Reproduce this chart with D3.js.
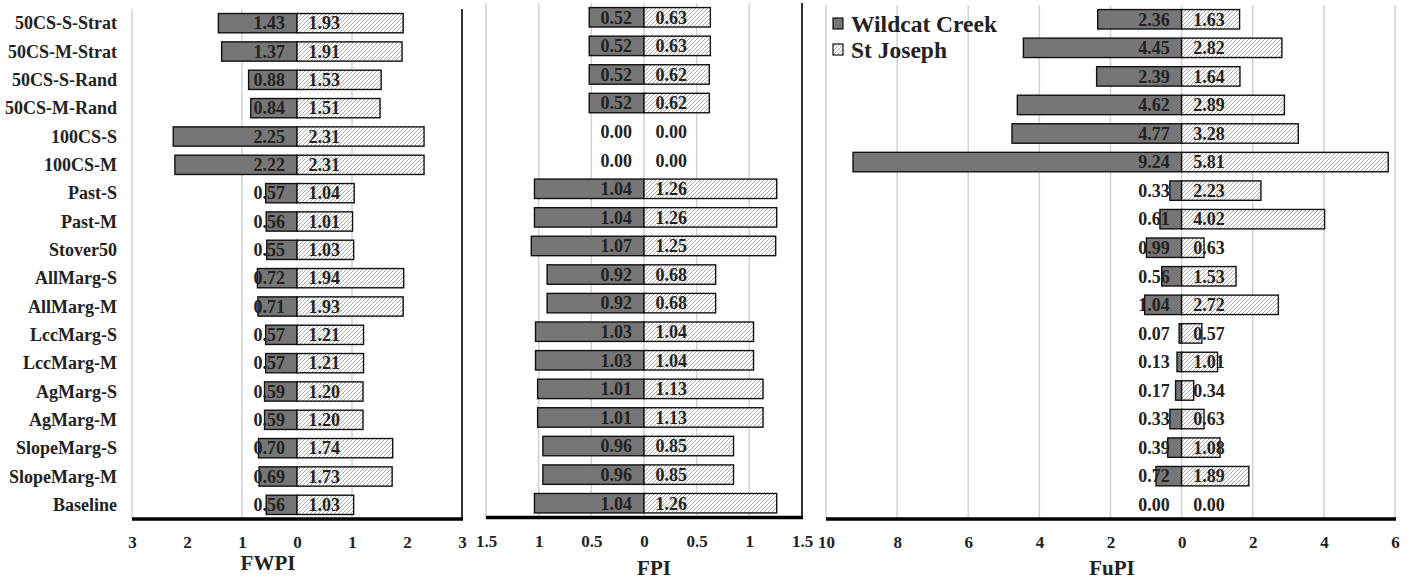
<!DOCTYPE html>
<html>
<head>
<meta charset="utf-8">
<script src="https://cdn.jsdelivr.net/npm/d3@7"></script>
<style>
  html, body { margin: 0; padding: 0; background: #fff; }
  svg { display: block; }
  text { font-family: "Liberation Serif", "Times New Roman", serif; font-weight: bold; fill: #222; }
</style>
</head>
<body>
<svg id="chart" width="1409" height="581"></svg>
<script>
// ---------------- DATA ----------------
const categories = ["50CS-S-Strat","50CS-M-Strat","50CS-S-Rand","50CS-M-Rand","100CS-S","100CS-M",
  "Past-S","Past-M","Stover50","AllMarg-S","AllMarg-M","LccMarg-S","LccMarg-M","AgMarg-S","AgMarg-M",
  "SlopeMarg-S","SlopeMarg-M","Baseline"];
const seriesNames = ["Wildcat Creek", "St Joseph"];

const fwpiWildcat  = [1.43,1.37,0.88,0.84,2.25,2.22,0.57,0.56,0.55,0.72,0.71,0.57,0.57,0.59,0.59,0.70,0.69,0.56];
const fwpiStJoseph = [1.93,1.91,1.53,1.51,2.31,2.31,1.04,1.01,1.03,1.94,1.93,1.21,1.21,1.20,1.20,1.74,1.73,1.03];
const fpiWildcat   = [0.52,0.52,0.52,0.52,0.00,0.00,1.04,1.04,1.07,0.92,0.92,1.03,1.03,1.01,1.01,0.96,0.96,1.04];
const fpiStJoseph  = [0.63,0.63,0.62,0.62,0.00,0.00,1.26,1.26,1.25,0.68,0.68,1.04,1.04,1.13,1.13,0.85,0.85,1.26];
const fupiWildcat  = [2.36,4.45,2.39,4.62,4.77,9.24,0.33,0.61,0.99,0.56,1.04,0.07,0.13,0.17,0.33,0.39,0.72,0.00];
const fupiStJoseph = [1.63,2.82,1.64,2.89,3.28,5.81,2.23,4.02,0.63,1.53,2.72,0.57,1.01,0.34,0.63,1.08,1.89,0.00];

const fwpiTicks = [-3,-2,-1,0,1,2,3];
const fpiTicks  = [-1.5,-1,-0.5,0,0.5,1,1.5];
const fupiTicks = [-10,-8,-6,-4,-2,0,2,4,6];

const fwpiGrid = [-3,-1,1];
const fpiGrid  = [-1.5,-1,-0.5,0,0.5,1];
const fupiGrid = [-10,-8,-6,-4,-2,0,2,4,6];

// ---------------- LAYOUT ----------------
const panels = [
  { title: "FWPI", wild: fwpiWildcat, stj: fwpiStJoseph, domain: [-3, 3], ticks: fwpiTicks, grid: fwpiGrid,
    darkRight: true, left: 132, right: 462, top: 9, bottom: 519, titleX: 268, titleY: 570 },
  { title: "FPI", wild: fpiWildcat, stj: fpiStJoseph, domain: [-1.5, 1.5], ticks: fpiTicks, grid: fpiGrid,
    darkRight: true, left: 486, right: 802, top: 3, bottom: 517.5, titleX: 654, titleY: 575 },
  { title: "FuPI", wild: fupiWildcat, stj: fupiStJoseph, domain: [-10, 6], ticks: fupiTicks, grid: fupiGrid,
    darkRight: false, left: 826, right: 1395, top: 5, bottom: 519, titleX: 1112, titleY: 575 }
];

const wildFill = "#767676";
const gridColor = "#d2d2d2";
const fmt = d3.format(".2f");

const svg = d3.select("#chart");
svg.append("rect").attr("width", 1409).attr("height", 581).attr("fill", "#fff");

// hatch pattern
const defs = svg.append("defs");
const pat = defs.append("pattern").attr("id", "hatch")
  .attr("patternUnits", "userSpaceOnUse").attr("width", 4).attr("height", 4);
pat.append("rect").attr("width", 4).attr("height", 4).attr("fill", "#fff");
pat.append("path").attr("d", "M-1,1 L1,-1 M0,4 L4,0 M3,5 L5,3")
  .attr("stroke", "#a2a2a2").attr("stroke-width", 0.9);

panels.forEach((p, pi) => {
  const x = d3.scaleLinear().domain(p.domain).range([p.left, p.right]);
  const y = d3.scaleBand().domain(categories).range([p.top, p.bottom])
    .paddingInner(0.32).paddingOuter(0.16);
  const g = svg.append("g");

  // gridlines
  g.selectAll("line.grid").data(p.grid).enter().append("line")
    .attr("x1", d => x(d)).attr("x2", d => x(d))
    .attr("y1", p.top).attr("y2", p.bottom)
    .attr("stroke", gridColor).attr("stroke-width", 1.5);
  if (p.darkRight) {
    g.append("line").attr("x1", x(p.domain[1])).attr("x2", x(p.domain[1]))
      .attr("y1", p.top).attr("y2", p.bottom)
      .attr("stroke", "#333").attr("stroke-width", 2);
  }

  const rows = categories.map((c, i) => ({ c, w: p.wild[i], s: p.stj[i] }));

  // Wildcat bars (to the left)
  g.selectAll("rect.wild").data(rows.filter(r => r.w > 0)).enter().append("rect")
    .attr("x", r => x(-r.w)).attr("width", r => x(0) - x(-r.w))
    .attr("y", r => y(r.c)).attr("height", y.bandwidth())
    .attr("fill", wildFill).attr("stroke", "#111").attr("stroke-width", 1.4);
  // St Joseph bars (to the right)
  g.selectAll("rect.stj").data(rows.filter(r => r.s > 0)).enter().append("rect")
    .attr("x", x(0)).attr("width", r => x(r.s) - x(0))
    .attr("y", r => y(r.c)).attr("height", y.bandwidth())
    .attr("fill", "url(#hatch)").attr("stroke", "#111").attr("stroke-width", 1.4);

  // data labels
  g.selectAll("text.wl").data(rows).enter().append("text")
    .attr("x", x(0) - 12).attr("y", r => y(r.c) + y.bandwidth() / 2)
    .attr("dy", "0.35em").attr("text-anchor", "end")
    .style("font-size", "18px").text(r => fmt(r.w));
  g.selectAll("text.sl").data(rows).enter().append("text")
    .attr("x", x(0) + 43).attr("y", r => y(r.c) + y.bandwidth() / 2)
    .attr("dy", "0.35em").attr("text-anchor", "end")
    .style("font-size", "18px").text(r => fmt(r.s));

  // bottom axis
  const axis = d3.axisBottom(x).tickValues(p.ticks)
    .tickFormat(d => String(Math.abs(d))).tickSize(0).tickPadding(17);
  const ag = g.append("g").attr("transform", `translate(0,${p.bottom})`).call(axis);
  ag.select(".domain").remove();
  ag.selectAll("text").style("font-size", "17px")
    .style("font-family", '"Liberation Serif", "Times New Roman", serif').style("font-weight", "bold").attr("fill", "#222");
  g.append("line").attr("x1", p.left).attr("x2", p.right + 1)
    .attr("y1", p.bottom).attr("y2", p.bottom)
    .attr("stroke", "#000").attr("stroke-width", 3.5);

  // title
  g.append("text").attr("x", p.titleX).attr("y", p.titleY)
    .attr("text-anchor", "middle").style("font-size", "21px").text(p.title);

  // category labels (first panel only)
  if (pi === 0) {
    g.selectAll("text.cat").data(categories).enter().append("text")
      .attr("x", 117).attr("y", c => y(c) + y.bandwidth() / 2)
      .attr("dy", "0.35em").attr("text-anchor", "end")
      .style("font-size", "18px").text(c => c);
  }

  // legend (last panel)
  if (pi === 2) {
    const lg = g.append("g");
    const items = [{ n: seriesNames[0], f: wildFill }, { n: seriesNames[1], f: "url(#hatch)" }];
    items.forEach((it, k) => {
      const yy = 18 + k * 26;
      lg.append("rect").attr("x", 833).attr("y", yy).attr("width", 10).attr("height", 11)
        .attr("fill", it.f).attr("stroke", "#111").attr("stroke-width", 1.2);
      lg.append("text").attr("x", 851).attr("y", yy + 14)
        .style("font-size", "23.5px").text(it.n);
    });
  }
});
</script>
</body>
</html>
